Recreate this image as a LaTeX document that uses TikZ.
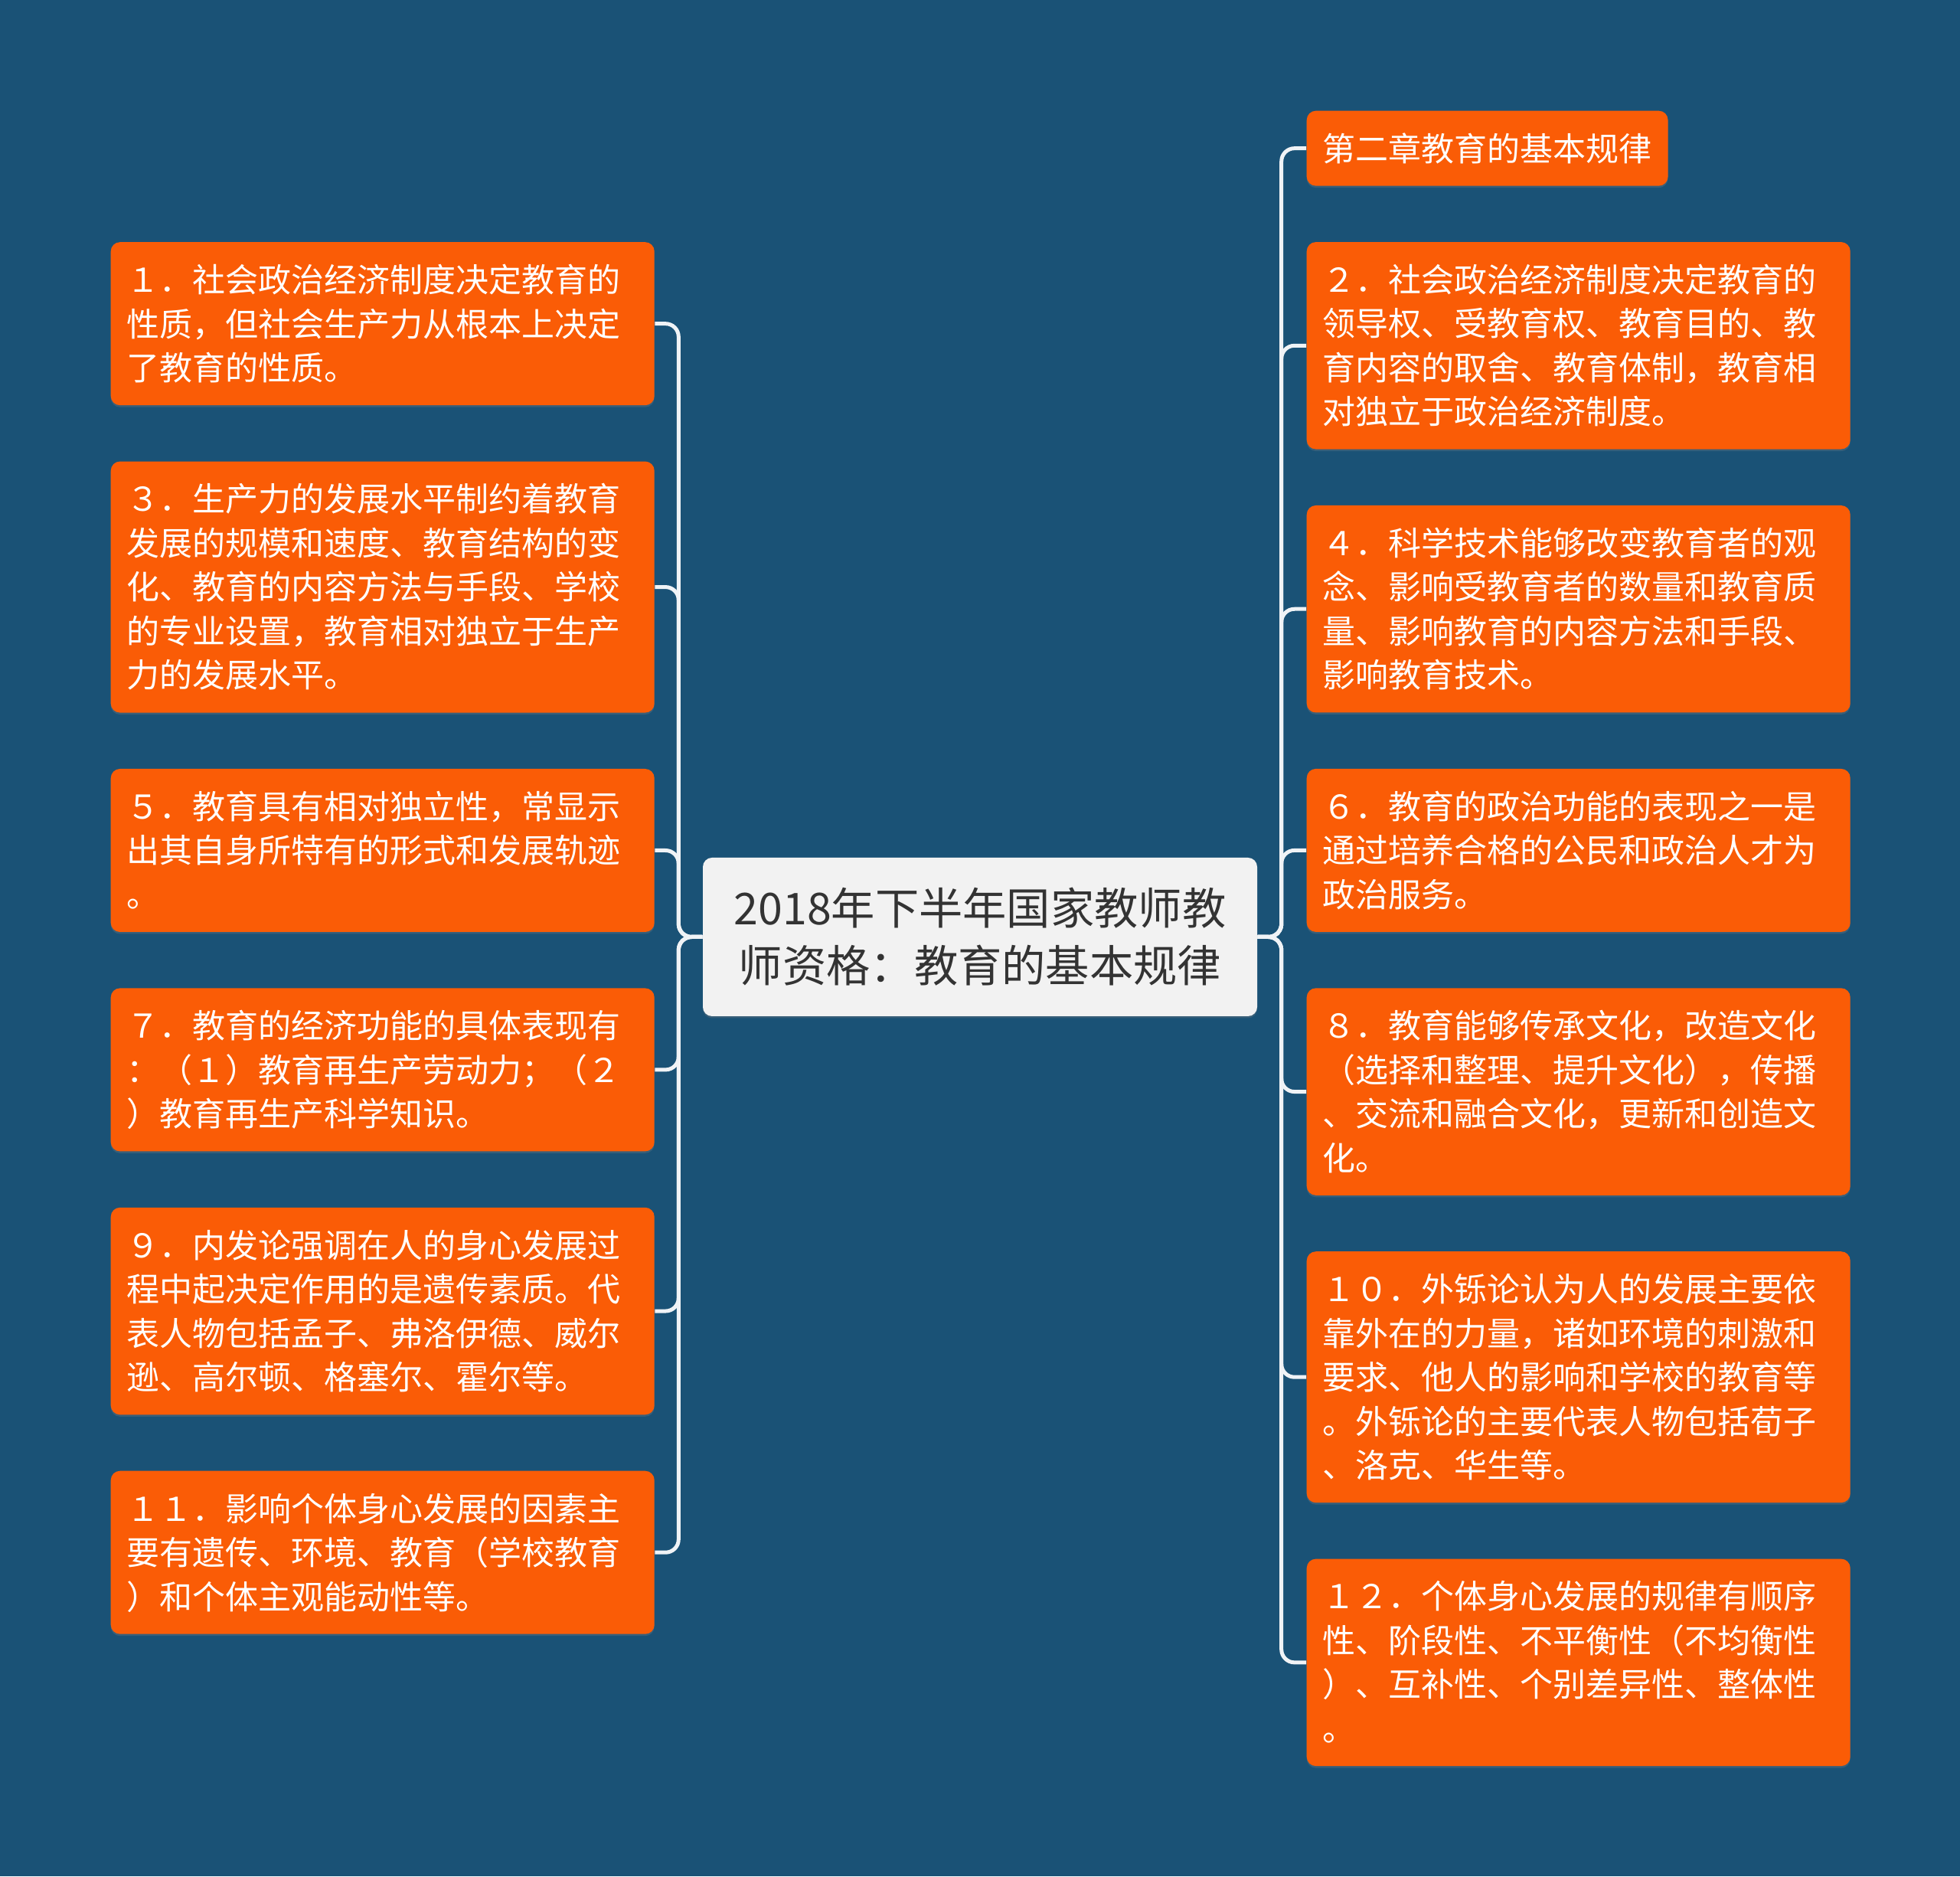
\documentclass[tikz,border=0pt]{standalone}
\usepackage{fontspec}
\newfontfamily\cjk{Noto Sans CJK SC}
\usetikzlibrary{positioning, shadows}
\definecolor{bgblue}{RGB}{26,82,118}
\definecolor{leaforange}{RGB}{250,92,6}
\definecolor{topicgray}{RGB}{242,242,242}
\definecolor{topictext}{RGB}{51,51,51}
\definecolor{linewhite}{RGB}{240,243,246}
\newcommand\leafstrut{\rule[-0.124cm]{0pt}{0.575cm}}
\newcommand\topicstrut{\rule[-0.157cm]{0pt}{0.75cm}}
\tikzset{
    base/.style={rectangle, rounded corners=0.12cm, draw=none, drop shadow={shadow xshift=0cm, shadow yshift=-0.025cm, opacity=0.3}},
    leafbase/.style={base, fill=leaforange, text=white, align=left, inner xsep=0.21cm, inner ysep=0.2025cm, font=\cjk\fontsize{12.23pt}{16.36pt}\selectfont, execute at begin node=\leafstrut, execute at end node=\leafstrut},
    leaf/.style={leafbase, text width=6.68cm},
    chapter/.style={leafbase},
    topic/.style={base, fill=topicgray, text=topictext, align=center, text width=6.7cm, inner xsep=0.27cm, inner ysep=0.285cm, font=\cjk\fontsize{16.3pt}{21.34pt}\selectfont, execute at begin node=\topicstrut, execute at end node=\topicstrut},
    branch/.style={draw=linewhite, line width=0.05cm, rounded corners=0.17cm}
}

\begin{document}
\begin{tikzpicture}[node distance=0.72cm]
    \fill [bgblue] (0,0) rectangle (25.6,24.5);

    \node (root) [topic] at (12.80,12.265) {2018年下半年国家教师教\\师资格：教育的基本规律};

    % left side
    \node (b1) [leaf, anchor=north west] at (1.44,21.345) {１．社会政治经济制度决定教育的\\性质，但社会生产力从根本上决定\\了教育的性质。};
    \node (b3) [leaf, below=of b1] {３．生产力的发展水平制约着教育\\发展的规模和速度、教育结构的变\\化、教育的内容方法与手段、学校\\的专业设置，教育相对独立于生产\\力的发展水平。};
    \node (b5) [leaf, below=of b3] {５．教育具有相对独立性，常显示\\出其自身所特有的形式和发展轨迹\\。};
    \node (b7) [leaf, below=of b5] {７．教育的经济功能的具体表现有\\：（１）教育再生产劳动力；（２\\）教育再生产科学知识。};
    \node (b9) [leaf, below=of b7] {９．内发论强调在人的身心发展过\\程中起决定作用的是遗传素质。代\\表人物包括孟子、弗洛伊德、威尔\\逊、高尔顿、格塞尔、霍尔等。};
    \node (b11) [leaf, below=of b9] {１１．影响个体身心发展的因素主\\要有遗传、环境、教育（学校教育\\）和个体主观能动性等。};

    % right side
    \node (c0) [chapter, anchor=north west] at (17.06,23.06) {第二章教育的基本规律};
    \node (b2) [leaf, below=of c0.south west, anchor=north west] {２．社会政治经济制度决定教育的\\领导权、受教育权、教育目的、教\\育内容的取舍、教育体制，教育相\\对独立于政治经济制度。};
    \node (b4) [leaf, below=of b2] {４．科学技术能够改变教育者的观\\念、影响受教育者的数量和教育质\\量、影响教育的内容方法和手段、\\影响教育技术。};
    \node (b6) [leaf, below=of b4] {６．教育的政治功能的表现之一是\\通过培养合格的公民和政治人才为\\政治服务。};
    \node (b8) [leaf, below=of b6] {８．教育能够传承文化，改造文化\\（选择和整理、提升文化），传播\\、交流和融合文化，更新和创造文\\化。};
    \node (b10) [leaf, below=of b8] {１０．外铄论认为人的发展主要依\\靠外在的力量，诸如环境的刺激和\\要求、他人的影响和学校的教育等\\。外铄论的主要代表人物包括荀子\\、洛克、华生等。};
    \node (b12) [leaf, below=of b10] {１２．个体身心发展的规律有顺序\\性、阶段性、不平衡性（不均衡性\\）、互补性、个别差异性、整体性\\。};

    % connectors
    \coordinate (ltrunk) at ([xshift=-0.31cm]root.west);
    \coordinate (rtrunk) at ([xshift=0.31cm]root.east);
    \foreach \b in {b1,b3,b5,b7,b9,b11}
        \draw [branch] (root.west) -- (ltrunk) |- (\b.east);
    \foreach \b in {c0,b2,b4,b6,b8,b10,b12}
        \draw [branch] (root.east) -- (rtrunk) |- (\b.west);
\end{tikzpicture}
\end{document}
